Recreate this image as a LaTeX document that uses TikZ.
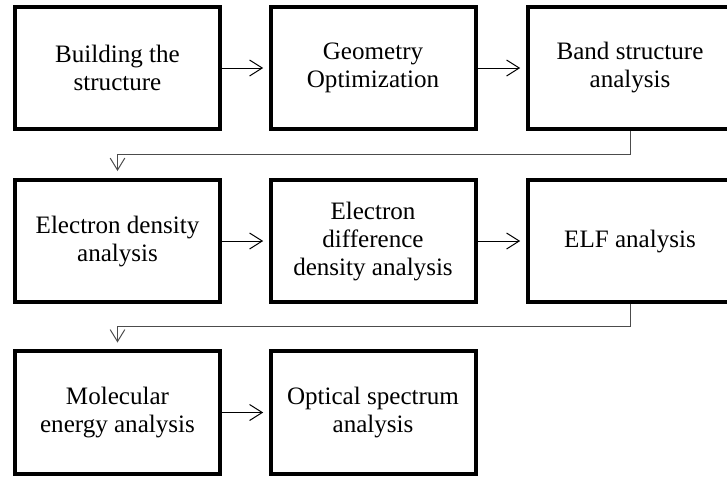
\documentclass[tikz,border=0pt]{standalone}
\usepackage{fontspec}
\setmainfont{Liberation Serif}
\usetikzlibrary{arrows.meta}

\begin{document}
\begin{tikzpicture}[x=0.75pt, y=-0.75pt,
  procbox/.style={draw, line width=3pt, minimum width=153.75pt, minimum height=92pt,
    align=center, inner sep=2pt, font=\fontsize{18.8}{21}\selectfont},
  fwd/.style={-{Straight Barb[length=9.5pt, width=12pt]}, line width=0.75pt, shorten >=4pt},
  back/.style={-{Straight Barb[length=9pt, width=11pt]}, line width=0.75pt, draw=black!70, shorten >=5pt}]
  \clip (0,0) rectangle (727,480);
  % first row
  \node[procbox] (build) at (117.5,68) {Building the\\structure};
  \node[procbox] (geom) at (373,68) {Geometry\\Optimization};
  \node[procbox] (band) at (630,68) {Band structure\\analysis};
  % second row
  \node[procbox] (edens) at (117.5,241) {Electron density\\analysis};
  \node[procbox] (ediff) at (373,241) {Electron\\difference\\density analysis};
  \node[procbox] (elf) at (630,241) {ELF analysis};
  % third row
  \node[procbox] (molec) at (117.5,412.5) {Molecular\\energy analysis};
  \node[procbox] (optic) at (373,412.5) {Optical spectrum\\analysis};
  % arrows
  \draw[fwd] (build) -- (geom);
  \draw[fwd] (geom) -- (band);
  \draw[fwd] (edens) -- (ediff);
  \draw[fwd] (ediff) -- (elf);
  \draw[fwd] (molec) -- (optic);
  \draw[back] (band.south) -- ++(0,23) -| (edens.north);
  \draw[back] (elf.south) -- ++(0,22) -| (molec.north);
\end{tikzpicture}
\end{document}
